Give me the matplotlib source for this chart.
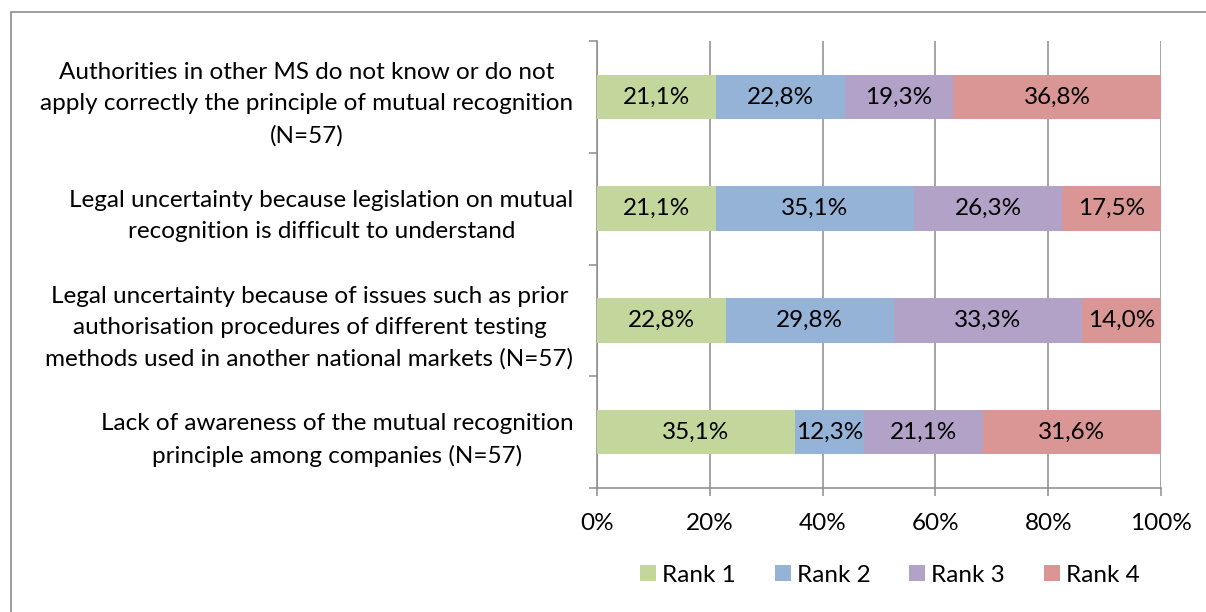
import matplotlib.pyplot as plt
from matplotlib.patches import Rectangle
import numpy as np

plt.rcParams['font.family'] = ['Lato', 'DejaVu Sans']

# categories, top to bottom
categories = [
    'Authorities in other MS do not know or do not\napply correctly the principle of mutual recognition\n(N=57)',
    'Legal uncertainty because legislation on mutual\nrecognition is difficult to understand',
    'Legal uncertainty because of issues such as prior\nauthorisation procedures of different testing\nmethods used in another national markets (N=57)',
    'Lack of awareness of the mutual recognition\nprinciple among companies (N=57)',
]

rank1 = [21.1, 21.1, 22.8, 35.1]
rank2 = [22.8, 35.1, 29.8, 12.3]
rank3 = [19.3, 26.3, 33.3, 21.1]
rank4 = [36.8, 17.5, 14.0, 31.6]

series_names = ['Rank 1', 'Rank 2', 'Rank 3', 'Rank 4']
colors = ['#C3D69B', '#95B3D7', '#B3A2C7', '#D99694']
grid_col = '#8C8C8C'
fs = 17.5

fig = plt.figure(figsize=(12.06, 6.12), dpi=100)
ax = fig.add_axes([597 / 1206, 1 - 488 / 612, (1161 - 597) / 1206, (488 - 41) / 612])

# outer chart border (runs off the right and bottom edges)
fig.patches.append(Rectangle((11 / 1206, -0.1), 1.2, 1 - 12 / 612 + 0.1,
                             transform=fig.transFigure, fill=False,
                             edgecolor='#8C8C8C', linewidth=1.2, zorder=0))

data = np.array([rank1, rank2, rank3, rank4])
totals = data.sum(axis=0)
y = np.arange(len(categories))
left = np.zeros(len(categories))
for vals, name, col in zip(data, series_names, colors):
    width = vals / totals
    ax.barh(y, width, left=left, height=0.4, color=col, label=name, zorder=3)
    for yi, l, w, v in zip(y, left, width, vals):
        ax.text(l + w / 2, yi, f'{v:.1f}%'.replace('.', ','), ha='center', va='center',
                fontsize=fs, color='black', zorder=4)
    left = left + width

ax.set_xlim(0, 1)
ax.set_ylim(3.5, -0.5)

ax.set_xticks(np.arange(0, 1.01, 0.2))
ax.set_xticklabels([f'{int(round(t * 100))}%' for t in np.arange(0, 1.01, 0.2)], fontsize=fs)
ax.xaxis.grid(True, color=grid_col, linewidth=1.1, zorder=0)
ax.tick_params(axis='x', direction='out', length=6, width=1.1, color=grid_col, pad=12)

# category boundaries as major ticks, labels on minor ticks at the bar centres
ax.set_yticks(np.arange(-0.5, 4, 1))
ax.set_yticklabels([])
ax.set_yticks(y, minor=True)
ax.set_yticklabels(categories, minor=True, fontsize=fs)
for lbl in ax.get_yticklabels(minor=True):
    lbl.set_multialignment('center')
    lbl.set_linespacing(1.6)
ax.tick_params(axis='y', which='major', direction='out', length=6, width=1.1, color=grid_col)
ax.tick_params(axis='y', which='minor', length=0, pad=17)

for s in ['top', 'right']:
    ax.spines[s].set_visible(False)
for s in ['left', 'bottom']:
    ax.spines[s].set_color(grid_col)
    ax.spines[s].set_linewidth(1.1)

ax.legend(loc='center', bbox_to_anchor=(890 / 1206, 1 - 575 / 612), bbox_transform=fig.transFigure,
          ncol=4, frameon=False, fontsize=fs, handlelength=0.65, handleheight=0.65,
          handletextpad=0.25, columnspacing=1.6)

fig.savefig('out.png', dpi=100)
